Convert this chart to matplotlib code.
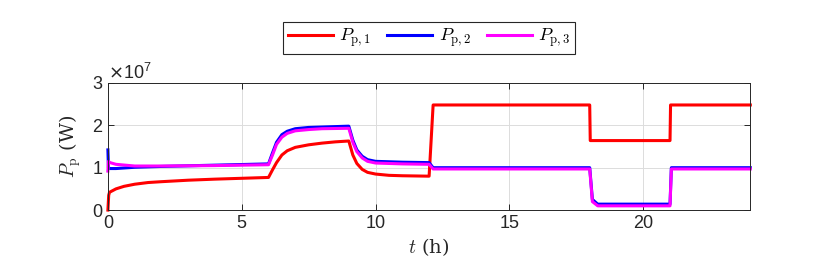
import matplotlib
matplotlib.use("Agg")
from matplotlib import pyplot as plt
from matplotlib.font_manager import FontProperties
from matplotlib.ticker import ScalarFormatter

# values (time in h, power in W)
t1 = [0, 0.03, 0.06, 0.3, 0.6, 1, 1.5, 2, 3, 4, 5, 6, 6.15, 6.3, 6.5, 6.7, 7, 7.5, 8, 8.5, 9,
      9.15, 9.3, 9.5, 9.7, 10, 10.5, 11, 12, 12.15, 18, 18.02, 21, 21.02, 24]
p1 = [0, 0.35e7, 0.42e7, 0.5e7, 0.56e7, 0.61e7, 0.65e7, 0.67e7, 0.705e7, 0.73e7, 0.75e7, 0.77e7,
      0.95e7, 1.12e7, 1.3e7, 1.4e7, 1.48e7, 1.54e7, 1.58e7, 1.61e7, 1.63e7,
      1.3e7, 1.1e7, 0.96e7, 0.89e7, 0.85e7, 0.82e7, 0.81e7, 0.8e7, 2.48e7, 2.48e7, 1.64e7, 1.64e7, 2.48e7, 2.48e7]

t2 = [0, 0.02, 0.08, 0.3, 1, 2, 4, 6, 6.15, 6.3, 6.5, 6.7, 7, 7.5, 8, 9,
      9.15, 9.3, 9.5, 9.7, 10, 11, 12, 12.15, 18, 18.1, 18.3, 21, 21.05, 24]
p2 = [1.42e7, 1.0e7, 0.98e7, 0.98e7, 1.01e7, 1.03e7, 1.06e7, 1.09e7, 1.35e7, 1.6e7, 1.78e7, 1.86e7,
      1.92e7, 1.95e7, 1.96e7, 1.98e7, 1.65e7, 1.42e7, 1.27e7, 1.19e7, 1.15e7, 1.13e7, 1.12e7,
      1.0e7, 1.0e7, 0.25e7, 0.14e7, 0.14e7, 1.0e7, 1.0e7]

t3 = [0, 0.02, 0.08, 0.3, 1, 2, 4, 6, 6.15, 6.3, 6.5, 6.7, 7, 7.5, 8, 9,
      9.15, 9.3, 9.5, 9.7, 10, 11, 12, 12.15, 18, 18.1, 18.3, 21, 21.05, 24]
p3 = [0.92e7, 1.15e7, 1.12e7, 1.08e7, 1.04e7, 1.04e7, 1.05e7, 1.07e7, 1.3e7, 1.55e7, 1.72e7, 1.81e7,
      1.87e7, 1.9e7, 1.92e7, 1.93e7, 1.6e7, 1.38e7, 1.23e7, 1.15e7, 1.11e7, 1.09e7, 1.08e7,
      0.97e7, 0.97e7, 0.2e7, 0.1e7, 0.1e7, 0.97e7, 0.97e7]

xticks = [0, 5, 10, 15, 20]
yticks = [0, 1e7, 2e7, 3e7]

plt.rcParams['font.family'] = ['Liberation Sans', 'DejaVu Sans']
plt.rcParams['mathtext.fontset'] = 'dejavusans'
dark = '#262626'

fig = plt.figure(figsize=(8.3, 2.6), dpi=100)
ax = fig.add_axes([0.130, 0.192, 0.774, 0.489])

ax.plot(t1, p1, color=(1, 0, 0), lw=2.2, label=r'$P_{\mathrm{p},1}$', clip_on=False)
ax.plot(t2, p2, color=(0, 0, 1), lw=2.2, label=r'$P_{\mathrm{p},2}$', clip_on=False)
ax.plot(t3, p3, color=(1, 0, 1), lw=2.2, label=r'$P_{\mathrm{p},3}$', clip_on=False)

ax.set_xlim(0, 24)
ax.set_ylim(0, 3e7)
ax.set_xticks(xticks)
ax.set_yticks(yticks)
fmt = ScalarFormatter(useMathText=True)
ax.yaxis.set_major_formatter(fmt)
ax.yaxis.get_offset_text().set_fontsize(13)
ax.yaxis.get_offset_text().set_color(dark)

ax.grid(True, color='#dcdcdc', lw=0.7)
ax.set_axisbelow(True)
ax.tick_params(direction='in', top=True, right=True, labelsize=13, colors=dark, length=4, width=0.7)
for s in ax.spines.values():
    s.set_color(dark)
    s.set_linewidth(0.7)

ax.set_xlabel(r'$t$ (h)', fontsize=14, family='serif', math_fontfamily='cm', color=dark, labelpad=3)
ax.set_ylabel(r'$P_{\mathrm{p}}$ (W)', fontsize=14, family='serif', math_fontfamily='cm', color=dark, labelpad=6)

lp = FontProperties(size=13, math_fontfamily='cm')
leg = fig.legend(loc='center', bbox_to_anchor=(0.517, 0.854), ncol=3, prop=lp, fancybox=False,
                 edgecolor=dark, framealpha=1, handlelength=2.5, columnspacing=0.9,
                 handletextpad=0.35, borderpad=0.25, borderaxespad=0)
leg.get_frame().set_linewidth(0.8)

fig.savefig('out.png', dpi=100)
